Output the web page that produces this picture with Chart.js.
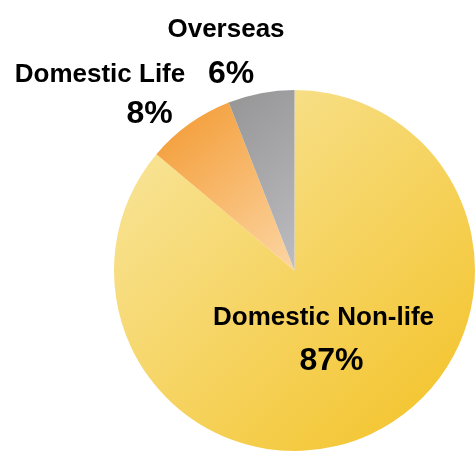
<!DOCTYPE html>
<html>
<head>
<meta charset="utf-8">
<script src="https://cdn.jsdelivr.net/npm/chart.js@4/dist/chart.umd.min.js"></script>
<style>
  html, body { margin: 0; padding: 0; background: #fff; }
  #wrap { width: 476px; height: 451px; }
</style>
</head>
<body>
<div id="wrap"><canvas id="share_pie" width="476" height="451"></canvas></div>
<script>
var segments = ['Domestic Non-life', 'Domestic Life', 'Overseas'];
var shares = [87, 8, 6];

// gradient stops for each slice: [light end, deep end]
var sliceColors = [
    ['#f8e394', '#f4c530'],
    ['#fcd6a4', '#f39a32'],
    ['#bdbdc2', '#8e8e8e']
];

// where each name / percentage sits, relative to the pie centre
var labelSpots = [
    { name: [29, 54.5], value: [37, 99.5] },
    { name: [-194.5, -188.5], value: [-145, -147.5] },
    { name: [-68.5, -233.5], value: [-63.5, -187.5] }
];

function sliceFill(context){
    var chart = context.chart;
    var area = chart.chartArea;
    var i = context.dataIndex;
    if(!area){
        return sliceColors[i][1];
    }
    var g = chart.ctx;
    var cx = (area.left + area.right) / 2;
    var cy = (area.top + area.bottom) / 2;
    var r = Math.min(area.right - area.left, area.bottom - area.top) / 2;
    var grad;
    if(i == 0){
        grad = g.createLinearGradient(cx - r * 0.75, cy - r * 0.75, cx + r * 0.75, cy + r * 0.85);
        grad.addColorStop(0, sliceColors[i][0]);
        grad.addColorStop(1, sliceColors[i][1]);
    }else{
        // small slices fade from the rim towards the centre
        grad = g.createLinearGradient(cx - r * 0.75, cy - r * 0.9, cx, cy);
        grad.addColorStop(0, sliceColors[i][1]);
        grad.addColorStop(1, sliceColors[i][0]);
    }
    return grad;
}

var pieLabels = {
    id: 'pieLabels',
    afterDatasetsDraw: function(chart){
        var arc = chart.getDatasetMeta(0).data[0];
        if(!arc) return;
        var ctx = chart.ctx;
        ctx.save();
        ctx.fillStyle = '#000';
        ctx.textAlign = 'center';
        ctx.textBaseline = 'alphabetic';
        for(var i = 0; i < segments.length; i++){
            var spot = labelSpots[i];
            ctx.font = "bold 26px 'Liberation Sans', Arial, sans-serif";
            ctx.fillText(segments[i], arc.x + spot.name[0], arc.y + spot.name[1]);
            ctx.font = "bold 32px 'Liberation Sans', Arial, sans-serif";
            ctx.fillText(shares[i] + '%', arc.x + spot.value[0], arc.y + spot.value[1]);
        }
        ctx.restore();
    }
};

var chart = new Chart(document.getElementById('share_pie').getContext('2d'), {
    type: 'pie',
    data: {
        labels: segments,
        datasets: [{
            data: shares,
            backgroundColor: sliceFill,
            borderWidth: 0
        }]
    },
    options: {
        responsive: false,
        maintainAspectRatio: false,
        animation: false,
        layout: {
            padding: { left: 114, right: 1, top: 90, bottom: 0 }
        },
        plugins: {
            legend: { display: false },
            tooltip: { enabled: false }
        }
    },
    plugins: [pieLabels]
});
</script>
</body>
</html>
